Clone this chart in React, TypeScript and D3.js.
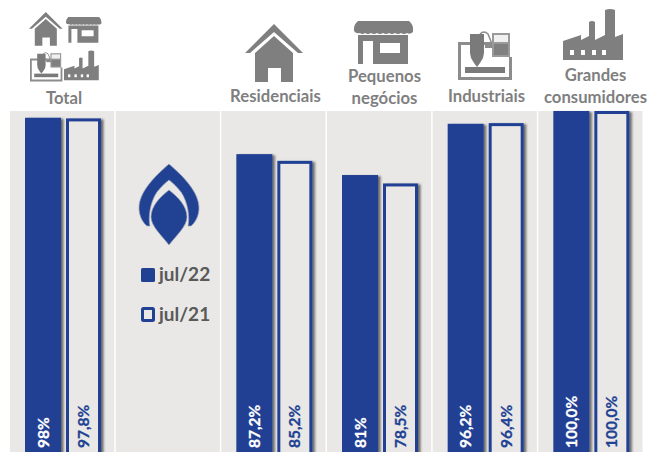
import React from "react";
import * as d3 from "d3";

const groups = ["Total", "_logo", "Residenciais", "Pequenos negócios", "Industriais", "Grandes consumidores"];
const barGroups = ["Total", "Residenciais", "Pequenos negócios", "Industriais", "Grandes consumidores"];
const seriesNames = ["jul/22", "jul/21"];
const jul22 = [98, 87.2, 81, 96.2, 100];
const jul21 = [97.8, 85.2, 78.5, 96.4, 100];
const labels22 = ["98%", "87,2%", "81%", "96,2%", "100,0%"];
const labels21 = ["97,8%", "85,2%", "78,5%", "96,4%", "100,0%"];

const W = 658, H = 452;
const BLUE = "#214193";
const PANEL = "#e9e8e6";
const ICON = "#7f7f7f";
const FONT = "Lato, Carlito, 'Open Sans', sans-serif";

const x0 = d3.scaleBand<string>().domain(groups).range([10, 644]);
const y = d3.scaleLinear().domain([0, 100]).range([448, 111]);

const House = ({ x, y, s = 1 }: any) => (
  <g transform={`translate(${x},${y}) scale(${s})`} fill={ICON}>
    <path d="M29 0L58 29H53L29 8L5 29H0Z" />
    <path d="M29 12L48 29V58H36V44H23V58H10V29Z" />
  </g>
);

const Shop = ({ x, y, s = 1 }: any) => (
  <g transform={`translate(${x},${y}) scale(${s})`} fill={ICON}>
    <path d="M4 0H55Q59 3 59 8V11Q56 14 53 12Q50 14 47 12Q44 14 41 12Q38 14 35 12Q32 14 29 12Q26 14 23 12Q20 14 17 12Q14 14 11 12Q8 14 6 12Q2 13 0 10V8Q0 3 4 0Z" />
    <path fillRule="evenodd" d="M4 14H54V43H19V20H9V43H4ZM26 22V32H46V22Z" />
  </g>
);

const Machine = ({ x, y, s = 1 }: any) => (
  <g transform={`translate(${x},${y}) scale(${s})`}>
    <path fill="#8c8c8c" fillRule="evenodd" d="M0 11H36V14H3V46H51V26H54V49H0Z" />
    <rect x={7} y={36} width={40} height={6} fill="#7a7a7a" />
    <path fill="#7a7a7a" d="M12 3H26V22L25 27L22 32L19 36L16 32L13 27L12 22Z" />
    <path fill="none" stroke="#8c8c8c" strokeWidth={1.5} d="M22 3Q26 -1 30 3L34 13" />
    <rect x={27} y={12} width={8} height={5} fill="#8c8c8c" />
    <rect x={34} y={2} width={18} height={24} fill="#9a9a9a" />
    <rect x={36} y={4} width={14} height={7} fill="#f0f0f0" />
    <rect x={36} y={13} width={14} height={11} fill="#808080" />
  </g>
);

const Factory = ({ x, y, s = 1 }: any) => (
  <g transform={`translate(${x},${y}) scale(${s})`}>
    <path fill={ICON} d="M0 33L18 27V32L26 28V14Q29 12 32 14V32L42 27V2Q47 0 52 2V29L60 26V52H0Z" />
    {[7, 18, 29, 39].map((wx) => (
      <rect key={wx} x={wx} y={42} width={4} height={5} fill="#ffffff" />
    ))}
  </g>
);

const headerLines: [string, number, number][] = [
  ["Total", 64, 104],
  ["Residenciais", 275.5, 102],
  ["Pequenos", 384.5, 82],
  ["negócios", 384.5, 104],
  ["Industriais", 486.5, 102],
  ["Grandes", 595.5, 81],
  ["consumidores", 595.5, 103],
];

export default function App() {
  const band = x0.bandwidth();
  return (
    <svg width={W} height={H} style={{ position: "absolute", left: 0, top: 0, display: "block", background: "#fff" }}>
      <defs>
        <filter id="sh" x="-20%" y="-5%" width="150%" height="110%">
          <feDropShadow dx={2.5} dy={1} stdDeviation={1.3} floodColor="#000" floodOpacity={0.55} />
        </filter>
      </defs>
      {groups.map((g) => (
        <rect key={g} x={x0(g)!} y={111} width={band - 1.5} height={H - 111} fill={PANEL} />
      ))}
      {barGroups.map((g, i) => {
        const gx = x0(g)!;
        const a = gx + 15;
        const b = gx + 56;
        const bw = 36;
        return (
          <g key={g}>
            <rect x={a} y={y(jul22[i])} width={bw} height={H + 10 - y(jul22[i])} fill={BLUE} filter="url(#sh)" />
            <rect x={b + 1.5} y={y(jul21[i]) + 1.5} width={bw - 4} height={H + 10 - y(jul21[i])} fill={PANEL} stroke={BLUE} strokeWidth={3} filter="url(#sh)" />
            <text transform={`translate(${a + bw / 2 + 5.5},448) rotate(-90)`} fill="#fff" stroke="#fff" strokeWidth={0.3} fontFamily={FONT} fontWeight={700} fontSize={15.5}>{labels22[i]}</text>
            <text transform={`translate(${b + bw / 2 + 5},448) rotate(-90)`} fill={BLUE} stroke={BLUE} strokeWidth={0.3} fontFamily={FONT} fontWeight={700} fontSize={15.5}>{labels21[i]}</text>
          </g>
        );
      })}
      {/* logo */}
      <g fill={BLUE} stroke="#9aa3b8" strokeWidth={0.7}>
        <path d="M169 164C155 176 139 192 139 208C139 216 143 223 147 226L150 226C148 218 150 202 157 192C161 187 165 183 169 180C173 183 177 187 181 192C188 202 190 218 188 226L191 226C195 223 199 216 199 208C199 192 183 176 169 164Z" />
        <path d="M169 190C160 197 151 206 151 217C151 226 162 236 169 245C176 236 187 226 187 217C187 206 178 197 169 190Z" />
      </g>
      {/* legend */}
      <rect x={141} y={268} width={14} height={14} rx={1.5} fill={BLUE} />
      <text x={159} y={281} fontFamily={FONT} fontWeight={700} fontSize={19} fill="#595959">{seriesNames[0]}</text>
      <rect x={142.5} y={308.5} width={11} height={12} rx={1} fill={PANEL} stroke={BLUE} strokeWidth={3} />
      <text x={159} y={321} fontFamily={FONT} fontWeight={700} fontSize={19} fill="#595959">{seriesNames[1]}</text>
      {/* header icons */}
      <House x={29} y={12} s={0.58} />
      <Shop x={66} y={17} s={0.6} />
      <Machine x={30} y={52} s={0.6} />
      <Factory x={64} y={50} s={0.58} />
      <House x={245} y={24} />
      <Shop x={354} y={21} />
      <Machine x={458} y={31} />
      <Factory x={563} y={8} />
      {headerLines.map(([t, cx, by]) => (
        <text key={t} x={cx} y={by} textAnchor="middle" fontFamily={FONT} fontWeight={700} fontSize={16.7} fill={ICON}>{t}</text>
      ))}
    </svg>
  );
}
